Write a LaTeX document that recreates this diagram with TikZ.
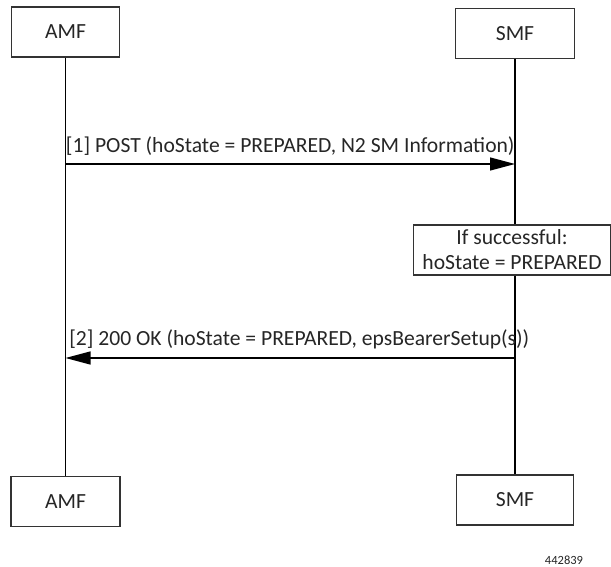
\documentclass[tikz,border=0pt]{standalone}
\usepackage{fontspec}
\setmainfont{Carlito}
\usetikzlibrary{arrows.meta,positioning}

\begin{document}
\begin{tikzpicture}[x=1pt, y=-1pt, >={Triangle[length=25pt,width=13pt]}, auto, font=\fontsize{21.6}{25}\selectfont, text=black!85]
\tikzstyle{entity}=[draw=black!80, line width=1.4pt, minimum height=50pt, inner sep=0pt]
\tikzstyle{life}=[line width=1.3pt]
\tikzstyle{msg}=[->, line width=1.3pt]
\useasboundingbox (0,0) rectangle (611,567);
\node[entity, minimum width=108pt]    (amf)  at (65.5,32)   {AMF};
\node[entity, minimum width=119pt]    (smf)  at (515,33.5)  {SMF};
\node[entity, minimum width=109pt]    (amfb) at (65.5,501.5) {AMF};
\node[entity, minimum width=117pt]    (smfb) at (515,500)   {SMF};
\node[entity, align=center, inner xsep=9pt, fill=white] (succ) at (512,250)
     {If successful:\\hoState = PREPARED};
\node[font=\fontsize{12.5}{14}\selectfont] (fig) at (564,560) {442839};
% message end points on the lifelines
\coordinate (m1a) at (65.5,164);
\coordinate (m1b) at (515,164);
\coordinate (m2a) at (65.5,358);
\coordinate (m2b) at (515,358);
\draw[life] (amf) -- (amfb);
\draw[life] (smf) -- (smf |- succ.north);
\draw[life] (smf |- succ.south) -- (smfb);
\draw[msg] (m1a) -- node[above=5pt]{[1] POST (hoState = PREPARED, N2 SM Information)} (m1b);
\draw[msg] (m2b) -- node[above=5pt, xshift=9pt]{[2] 200 OK (hoState = PREPARED, epsBearerSetup(s))} (m2a);
\end{tikzpicture}
\end{document}
